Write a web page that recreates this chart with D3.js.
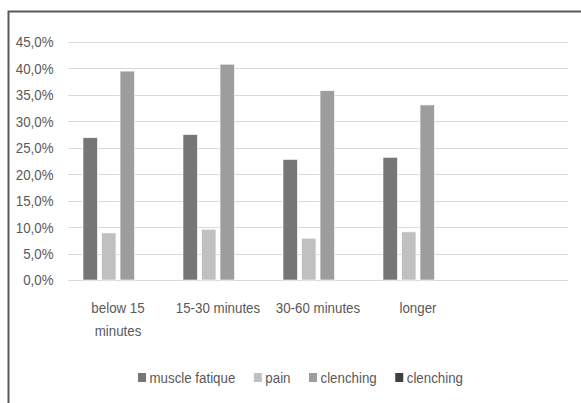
<!DOCTYPE html>
<html><head><meta charset="utf-8">
<script src="https://cdn.jsdelivr.net/npm/d3@7"></script>
<style>
html,body{margin:0;padding:0;background:#fff;}
text{font-family:"Liberation Sans",Arial,sans-serif;fill:#595959;}
</style></head>
<body>
<svg id="c" width="581" height="403"></svg>
<script>
const categories = ["below 15\nminutes", "15-30 minutes", "30-60 minutes", "longer", ""];
const seriesNames = ["muscle fatique", "pain", "clenching", "clenching"];
const muscleFatique = [0.269, 0.275, 0.228, 0.232, null];
const pain = [0.089, 0.096, 0.079, 0.091, null];
const clenching = [0.395, 0.408, 0.358, 0.331, null];
const clenching2 = [null, null, null, null, null];
const seriesColors = ["#767676", "#c0c0c0", "#9d9d9d", "#404040"];
const yTicks = [0, 0.05, 0.10, 0.15, 0.20, 0.25, 0.30, 0.35, 0.40, 0.45];

const seriesValues = [muscleFatique, pain, clenching, clenching2];
const svg = d3.select("#c");
const W = 581, H = 403;
const SX = 0.86; // horizontal condensing to mimic a narrow font
const FS = 15.5;

// frame
svg.append("path").attr("d", `M8.5,${H} V11.5 H${W}`).attr("fill","none").attr("stroke","#5a5a5a").attr("stroke-width",2);

const x0 = d3.scaleBand().domain(d3.range(categories.length)).range([68, 568]);
const x1 = d3.scaleBand().domain(d3.range(seriesNames.length)).range([0, x0.bandwidth()]).paddingInner(0.22).paddingOuter(0.81);
const y = d3.scaleLinear().domain([0, 0.45]).range([280, 42]);

const loc = d3.formatLocale({decimal: ",", thousands: ".", grouping: [3], currency: ["", "€"]});
const fmt = loc.format(".1%");

// grid
svg.append("g").selectAll("line").data(yTicks).join("line")
  .attr("x1", 68).attr("x2", 568)
  .attr("y1", d => Math.round(y(d)) + 0.5).attr("y2", d => Math.round(y(d)) + 0.5)
  .attr("stroke", "#d9d9d9").attr("stroke-width", 1);

// y axis labels
const yAxis = d3.axisLeft(y).tickValues(yTicks).tickFormat(fmt).tickSize(0).tickPadding(0);
const ga = svg.append("g").attr("transform", "translate(53.5,0)").call(yAxis);
ga.select(".domain").remove();
ga.attr("font-family", null).attr("font-size", null);
ga.selectAll("text").attr("font-size", FS).attr("fill", "#595959")
  .attr("transform", `scale(${SX},1)`);

// bars
const groups = svg.append("g").selectAll("g").data(categories.map((c, i) => i)).join("g")
  .attr("transform", i => `translate(${x0(i)},0)`);
groups.selectAll("rect").data(i => seriesValues.map((s, k) => ({k, v: s[i]})).filter(d => d.v != null))
  .join("rect")
  .attr("x", d => x1(d.k)).attr("width", x1.bandwidth())
  .attr("y", d => y(d.v)).attr("height", d => y(0) - y(d.v))
  .attr("fill", d => seriesColors[d.k])
  .attr("stroke", "#ffffff").attr("stroke-width", 0.6);

// category labels
const cl = svg.append("g").selectAll("text").data(categories).join("text")
  .attr("font-size", FS).attr("text-anchor", "middle")
  .attr("transform", (d, i) => `translate(${x0(i) + x0.bandwidth() / 2},312.5) scale(${SX},1)`);
cl.selectAll("tspan").data(d => d.split("\n")).join("tspan")
  .attr("x", 0).attr("dy", (d, j) => j === 0 ? 0 : 24).text(d => d);

// legend
const lg = svg.append("g");
const items = lg.selectAll("g").data(seriesNames).join("g");
items.append("rect").attr("width", 8).attr("height", 9).attr("y", -10).attr("fill", (d, i) => seriesColors[i]);
items.append("text").attr("font-size", FS).attr("transform", `translate(11.5,0) scale(${SX},1)`).text(d => d);
let xpos = 0;
items.each(function () {
  const w = d3.select(this).select("text").node().getComputedTextLength() * SX;
  d3.select(this).attr("transform", `translate(${xpos},0)`);
  xpos += 11.5 + w + 18.5;
});
const total = xpos - 18.5;
lg.attr("transform", `translate(${300.5 - total / 2},383)`);
</script>
</body></html>
